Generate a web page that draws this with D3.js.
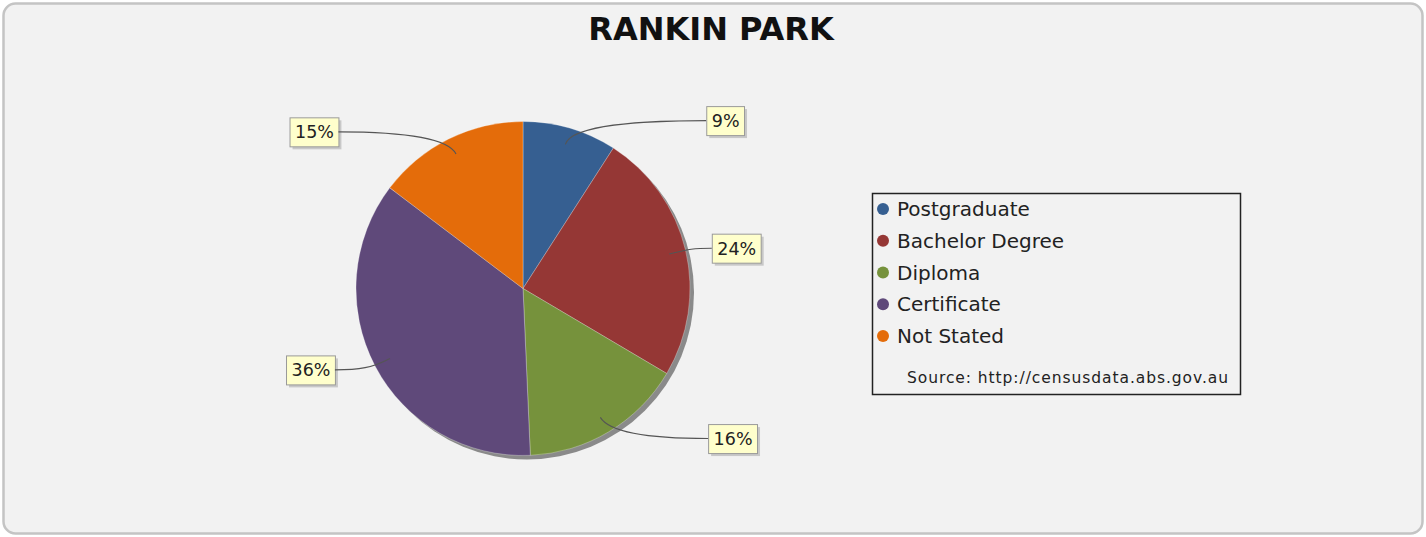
<!DOCTYPE html>
<html><head><meta charset="utf-8">
<script src="https://cdn.jsdelivr.net/npm/d3@7"></script>
<style>html,body{margin:0;padding:0;background:#fff;}svg{display:block;}</style>
</head><body>
<svg id="chart" width="1426" height="537"></svg>
<script>
const title = "RANKIN PARK";
const categories = ["Postgraduate", "Bachelor Degree", "Diploma", "Certificate", "Not Stated"];
const values = [9.1, 24.4, 15.8, 36.0, 14.7];
const colors = ["#365f91", "#953735", "#76923c", "#5f497a", "#e46c0a"];
const sourceText = "Source: http://censusdata.abs.gov.au";

const svg = d3.select("#chart");
const W = 1426, H = 537;

// frame
svg.append("rect").attr("x", 3.5).attr("y", 3.5).attr("width", W - 7).attr("height", H - 7)
  .attr("rx", 12).attr("ry", 12).attr("fill", "#f2f2f2").attr("stroke", "#c4c4c4").attr("stroke-width", 2.5);

// title
svg.append("text").attr("x", 711).attr("y", 40).attr("text-anchor", "middle")
  .attr("font-family", "DejaVu Sans").attr("font-weight", "bold").attr("font-size", 32)
  .attr("fill", "#111").text(title);

const cx = 523, cy = 288.5, R = 167;
const total = d3.sum(values);
const pie = d3.pie().sort(null).value(d => d)(values);
const arc = d3.arc().innerRadius(0).outerRadius(R);

const g = svg.append("g").attr("transform", `translate(${cx},${cy})`);
// shadow
g.append("circle").attr("cx", 4).attr("cy", 4).attr("r", R).attr("fill", "#8a8a8a");
g.selectAll("path.slice").data(pie).join("path").attr("class", "slice")
  .attr("d", arc).attr("fill", (d, i) => colors[i])
  .attr("stroke", "rgba(255,255,255,0.35)").attr("stroke-width", 0.8);

// labels
const lab = svg.append("g");
pie.forEach((d, i) => {
  const a = (d.startAngle + d.endAngle) / 2;
  const s = Math.sin(a), c = Math.cos(a);
  const sign = s >= 0 ? 1 : -1;
  const ax = cx + 0.9 * R * s, ay = cy - 0.9 * R * c;
  const ly = cy - 175 * c;
  const ex = cx + sign * (181 + 8 * Math.abs(s));
  const c1x = cx + 1.02 * R * s, c1y = cy - 1.02 * R * c;
  const c2x = ex + (ax - ex) * 0.45, c2y = ly;
  lab.append("path").attr("d", `M${ax},${ay}C${c1x},${c1y} ${c2x},${c2y} ${ex},${ly}`)
    .attr("fill", "none").attr("stroke", "#555").attr("stroke-width", 1.1);
  const txt = Math.round(values[i] / total * 100) + "%";
  const t = lab.append("text").attr("font-family", "DejaVu Sans").attr("font-size", 17.5)
    .attr("fill", "#222").text(txt);
  const tw = t.node().getComputedTextLength();
  const bw = tw + 10, bh = 29;
  const bx = sign > 0 ? ex : ex - bw;
  const by = ly - bh / 2;
  lab.insert("rect", "text").attr("x", bx + 3).attr("y", by + 3).attr("width", bw).attr("height", bh)
    .attr("fill", "#c8c8c8");
  lab.insert("rect", "text").attr("x", bx + 0.5).attr("y", by + 0.5).attr("width", bw).attr("height", bh)
    .attr("fill", "#ffffcc").attr("stroke", "#9a9a9a").attr("stroke-width", 1);
  t.attr("x", bx + bw / 2 + 0.5).attr("y", ly + 6.5).attr("text-anchor", "middle");
});

// legend
const lx = 872.5, ly0 = 193.5, lw = 368, lh = 201;
const lg = svg.append("g");
lg.append("rect").attr("x", lx).attr("y", ly0).attr("width", lw).attr("height", lh)
  .attr("fill", "#f2f2f2").attr("stroke", "#222").attr("stroke-width", 1.5);
const yLeg = d3.scalePoint().domain(categories).range([209, 336]);
categories.forEach((cat, i) => {
  const y = yLeg(cat);
  lg.append("circle").attr("cx", 883).attr("cy", y).attr("r", 6).attr("fill", colors[i]);
  lg.append("text").attr("x", 897).attr("y", y + 7).attr("font-family", "DejaVu Sans")
    .attr("font-size", 20).attr("fill", "#222").text(cat);
});
lg.append("text").attr("x", 907).attr("y", 383).attr("font-family", "DejaVu Sans")
  .attr("font-size", 15.5).attr("fill", "#222")
  .attr("textLength", 321).attr("lengthAdjust", "spacing").text(sourceText);
</script>
</body></html>
